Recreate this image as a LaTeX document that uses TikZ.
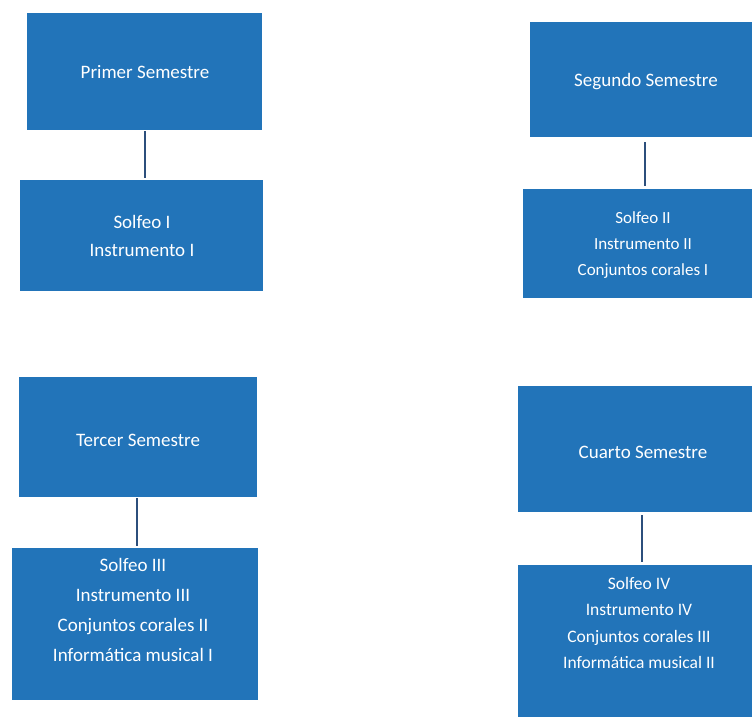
\documentclass[tikz,border=0pt]{standalone}
\usepackage{fontspec}
\setmainfont{Carlito}
\usetikzlibrary{calc}
\definecolor{boxblue}{HTML}{2274B9}
\definecolor{linkblue}{HTML}{2C4F7C}
\tikzset{
  box/.style={fill=boxblue, draw=none, anchor=north west, inner sep=0pt},
  title/.style={text=white, font=\fontsize{19}{23}\selectfont, inner sep=0pt},
  items/.style={text=white, align=center, inner sep=0pt},
  link/.style={draw=linkblue, line width=2pt}
}
\begin{document}
\begin{tikzpicture}[x=1pt, y=-1pt]
\useasboundingbox (0,0) rectangle (752,717);
\clip (0,0) rectangle (752,717);
\fill[white] (0,0) rectangle (752,717);
% boxes
\node[box, minimum width=235pt, minimum height=117pt] (b1) at (27,13) {};
\node[box, minimum width=243pt, minimum height=111pt] (b2) at (20,180) {};
\node[box, minimum width=240pt, minimum height=115pt] (b3) at (530,22) {};
\node[box, minimum width=240pt, minimum height=109pt] (b4) at (523,189) {};
\node[box, minimum width=238pt, minimum height=120pt] (b5) at (19,377) {};
\node[box, minimum width=246pt, minimum height=152pt] (b6) at (12,548) {};
\node[box, minimum width=240pt, minimum height=126pt] (b7) at (518,386) {};
\node[box, minimum width=240pt, minimum height=160pt] (b8) at (518,565) {};
% texts
\node[title] (t1) at (145,72) {Primer Semestre};
\node[title] (t3) at (646,82) {Segundo Semestre};
\node[title] (t5) at (138,440) {Tercer Semestre};
\node[title] (t7) at (643,452) {Cuarto Semestre};
\node[items, font=\fontsize{19}{28.5}\selectfont] (t2) at (142,236) {Solfeo I\\Instrumento I};
\node[items, font=\fontsize{17}{26}\selectfont] (t4) at (643,245) {Solfeo II\\Instrumento II\\Conjuntos corales I};
\node[items, font=\fontsize{19}{30}\selectfont] (t6) at (133,610) {Solfeo III\\Instrumento III\\Conjuntos corales II\\Informática musical I};
\node[items, font=\fontsize{17.5}{26.5}\selectfont] (t8) at (639,623) {Solfeo IV\\Instrumento IV\\Conjuntos corales III\\Informática musical II};
% connectors
\draw[link] ($(b1.south)+(0,1)$) -- ($(b1.south |- b2.north)+(0,-2)$);
\draw[link] ($(b3.south)+(-5,5)$) -- ($(b3.south |- b4.north)+(-5,-3)$);
\draw[link] ($(b5.south)+(-1,1)$) -- ($(b5.south |- b6.north)+(-1,-2)$);
\draw[link] ($(b7.south)+(4,3)$) -- ($(b7.south |- b8.north)+(4,-3)$);
\end{tikzpicture}
\end{document}
